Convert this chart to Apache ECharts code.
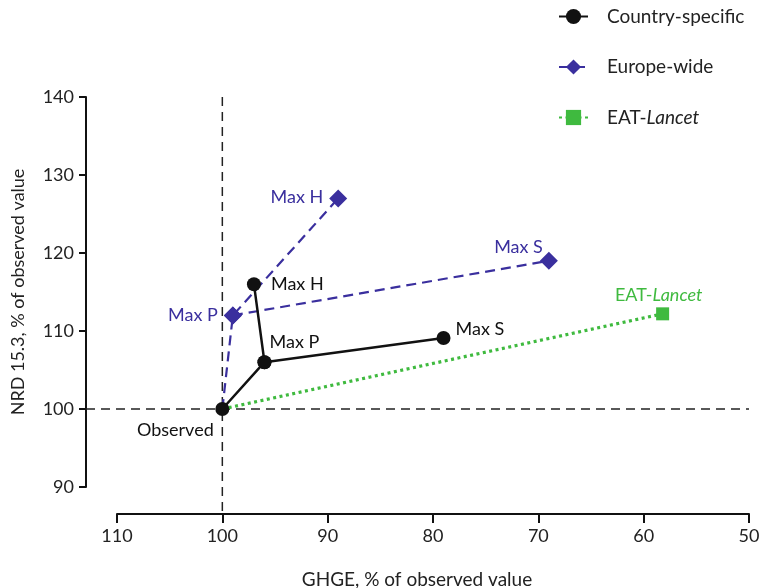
<!DOCTYPE html>
<html>
<head>
<meta charset="utf-8">
<script src="https://cdn.jsdelivr.net/npm/echarts@6/dist/echarts.min.js"></script>
<style>
  html, body { margin: 0; padding: 0; background: #fff; }
  #chart { width: 759px; height: 588px; }
</style>
</head>
<body>
<div id="chart"></div>
<script>
// ---- data ----
const seriesNames = ['Country-specific', 'Europe-wide', 'EAT-Lancet'];
const pointNames = ['Observed', 'Max P', 'Max H', 'Max S'];
const countryX = [100, 96, 97, 79];
const countryY = [100, 106, 116, 109.1];
const europeX = [100, 99, 89, 69];
const europeY = [100, 112, 127, 119];
const lancetNames = ['Observed', 'EAT-Lancet'];
const lancetX = [100, 58.2];
const lancetY = [100, 112.2];
const xTicks = [110, 100, 90, 80, 70, 60, 50];
const yTicks = [90, 100, 110, 120, 130, 140];
const refX = 100, refY = 100;

// ---- styles ----
const FONT = 'Lato';
const BLACK = '#111111';
const BLUE = '#3a2f9e';
const GREEN = '#3fba3f';
const LFS = 18;

const labelCfg = {
  c: {
    'Observed': { show: true, position: 'bottom', offset: [-47, 0], color: BLACK },
    'Max P': { show: true, position: 'top', offset: [30, 1], color: BLACK },
    'Max H': { show: true, position: 'right', offset: [5, 0], color: BLACK },
    'Max S': { show: true, position: 'right', offset: [0, -9], color: BLACK }
  },
  e: {
    'Max P': { show: true, position: 'left', offset: [-1, 0], color: BLUE },
    'Max H': { show: true, position: 'left', offset: [-1, -1], color: BLUE },
    'Max S': { show: true, position: 'left', offset: [8, -14], color: BLUE }
  },
  l: {
    'EAT-Lancet': { show: true, position: 'top', offset: [-4, 2], color: GREEN,
      formatter: 'EAT-{i|Lancet}', rich: { i: { fontStyle: 'italic', color: GREEN, fontSize: LFS, fontFamily: FONT } } }
  }
};

function pt(xs, ys, names, i, cfgKey, withLabel) {
  const lab = withLabel ? labelCfg[cfgKey][names[i]] : null;
  const item = { value: [xs[i], ys[i]], name: names[i] };
  if (lab) item.label = Object.assign({ fontSize: LFS, fontFamily: FONT, formatter: names[i] }, lab);
  return item;
}
function seg(name, xs, ys, names, idxs, labelIdxs, cfgKey, style, symbol, size, z) {
  return {
    name: name, type: 'line',
    data: idxs.map(i => pt(xs, ys, names, i, cfgKey, labelIdxs.indexOf(i) >= 0)),
    symbol: symbol, symbolSize: size, showSymbol: true,
    lineStyle: style, itemStyle: { color: style.color },
    emphasis: { disabled: true }, animation: false, z: z,
    label: { show: false }
  };
}

const cStyle = { color: BLACK, width: 2.5, type: 'solid' };
const eStyle = { color: BLUE, width: 2.2, type: [10, 6] };
const lStyle = { color: GREEN, width: 3.2, type: [3, 3.5] };

const series = [
  seg(seriesNames[0], countryX, countryY, pointNames, [0, 1, 2], [0, 1, 2], 'c', cStyle, 'circle', 14, 4),
  seg(seriesNames[1], europeX, europeY, pointNames, [0, 1, 2], [1, 2], 'e', eStyle, 'diamond', 18, 3),
  seg(seriesNames[2], lancetX, lancetY, lancetNames, [0, 1], [1], 'l', lStyle, 'rect', 13, 2),
  seg(seriesNames[0], countryX, countryY, pointNames, [1, 3], [3], 'c', cStyle, 'circle', 14, 4),
  seg(seriesNames[1], europeX, europeY, pointNames, [1, 3], [3], 'e', eStyle, 'diamond', 18, 3)
];
// only the black marker is drawn at the shared observed point
series[1].data[0].symbolSize = 0;
series[2].data[0].symbolSize = 0;

const chart = echarts.init(document.getElementById('chart'), null, { renderer: 'canvas' });
chart.setOption({
  animation: false,
  backgroundColor: '#ffffff',
  grid: { left: 117, right: 10, top: 97, bottom: 101, containLabel: false, outerBoundsMode: 'none' },
  xAxis: {
    type: 'value', inverse: true, min: 50, max: 110, interval: 10, offset: 27,
    name: 'GHGE, % of observed value', nameLocation: 'middle', nameGap: 56,
    nameTextStyle: { fontSize: 19, fontFamily: FONT, color: '#222', padding: [0, 32, 0, 0] },
    splitLine: { show: false },
    axisLine: { show: true, lineStyle: { color: '#111', width: 2 } },
    axisTick: { show: true, length: 9, lineStyle: { color: '#111', width: 2 } },
    axisLabel: { fontSize: 18, fontFamily: FONT, color: '#222', margin: 13,
      customValues: xTicks, formatter: v => String(v) }
  },
  yAxis: {
    type: 'value', min: 90, max: 140, interval: 10, offset: 31,
    name: 'NRD 15.3, % of observed value', nameLocation: 'middle', nameGap: 59, nameRotate: 90,
    nameTextStyle: { fontSize: 18, fontFamily: FONT, color: '#222' },
    splitLine: { show: false },
    axisLine: { show: true, lineStyle: { color: '#111', width: 2 } },
    axisTick: { show: true, length: 7, lineStyle: { color: '#111', width: 2 } },
    axisLabel: { fontSize: 18, fontFamily: FONT, color: '#222', margin: 12,
      customValues: yTicks, formatter: v => String(v) }
  },
  legend: {
    data: seriesNames, orient: 'vertical', left: 553, top: 2, itemGap: 31.5,
    itemWidth: 29, itemHeight: 19,
    textStyle: { fontSize: 19, fontFamily: FONT, color: '#222', padding: [0, 0, 0, 14],
      rich: { i: { fontStyle: 'italic', fontSize: 19, fontFamily: FONT, color: '#222' } } },
    formatter: n => n === 'EAT-Lancet' ? 'EAT-{i|Lancet}' : n,
    selectedMode: false
  },
  series: series
});

// reference dashed lines, positioned from the axes' own scales
const topPt = chart.convertToPixel({ gridIndex: 0 }, [refX, 140]);
const refPt = chart.convertToPixel({ gridIndex: 0 }, [refX, refY]);
const rightPt = chart.convertToPixel({ gridIndex: 0 }, [50, refY]);
const bottomPt = chart.convertToPixel({ gridIndex: 0 }, [refX, 90]);
const xAxisY = bottomPt[1] + 27;
const yAxisX = chart.convertToPixel({ gridIndex: 0 }, [110, refY])[0] - 31;
chart.setOption({
  graphic: [
    { type: 'line', z: 1, silent: true,
      shape: { x1: refPt[0], y1: topPt[1], x2: refPt[0], y2: xAxisY },
      style: { stroke: '#222', lineWidth: 1.5, lineDash: [9, 6] } },
    { type: 'line', z: 1, silent: true,
      shape: { x1: yAxisX, y1: refPt[1], x2: rightPt[0], y2: refPt[1] },
      style: { stroke: '#222', lineWidth: 1.5, lineDash: [9, 6] } }
  ]
});
</script>
</body>
</html>
